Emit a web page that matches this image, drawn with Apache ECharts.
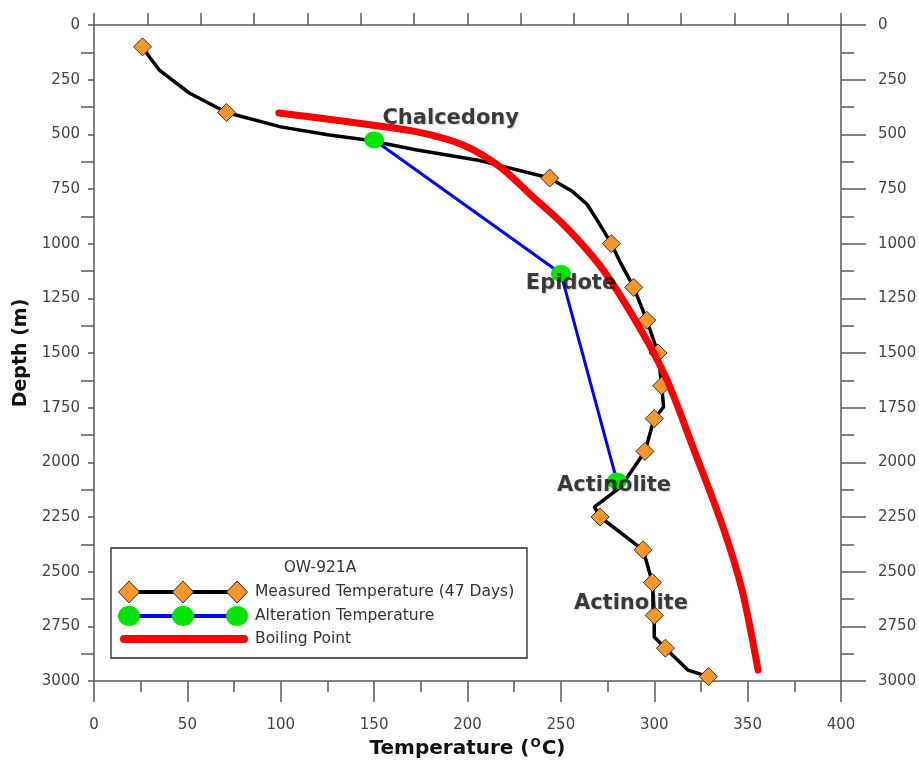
<!DOCTYPE html>
<html>
<head>
<meta charset="utf-8">
<script src="https://cdn.jsdelivr.net/npm/echarts@6/dist/echarts.min.js"></script>
<style>
html,body{margin:0;padding:0;background:#fff;overflow:hidden;}
#chart{width:919px;height:760px;}
</style>
</head>
<body>
<div id="chart"></div>
<script>
// ---- data ----
const measuredT = [26, 30, 35, 51, 71, 100, 126, 146, 173, 205, 244, 256, 264, 270, 277, 282, 289, 296, 302, 304, 305, 300, 295, 282, 268, 271, 294, 299, 300, 300, 306, 318, 329];
const measuredD = [100, 150, 206, 311, 400, 466, 503, 526, 572, 617, 700, 760, 820, 900, 1000, 1088, 1200, 1350, 1500, 1650, 1747, 1800, 1950, 2113, 2204, 2250, 2400, 2550, 2700, 2799, 2850, 2950, 2980];
const measuredMarked = [1, 0, 0, 0, 1, 0, 0, 0, 0, 0, 1, 0, 0, 0, 1, 0, 1, 1, 1, 1, 0, 1, 1, 0, 0, 1, 1, 1, 1, 0, 1, 0, 1];

const alterT = [150, 250, 280];
const alterD = [526, 1136, 2085];

const boilT = [99, 137, 173, 197.6, 217.4, 235, 252.7, 272.6, 292.9, 306.8, 320.7, 336.8, 347, 355.6];
const boilD = [402, 444, 489, 549, 649, 786, 924, 1120, 1395, 1623, 1930, 2296, 2584, 2950];

const labelText = ['Chalcedony', 'Epidote', 'Actinolite', 'Actinolite'];
const labelT = [191, 255.4, 278.5, 287.5];
const labelD = [428, 1183, 2106, 2645];

const xTicks = {min: 0, max: 400, interval: 50};
const yTicks = {min: 0, max: 3000, interval: 250};

const legendTitle = 'OW-921A';
const legendNames = ['Measured Temperature (47 Days)', 'Alteration Temperature', 'Boiling Point'];

// ---- chart ----
const FONT = 'DejaVu Sans';
const axisCol = '#5a5a5a';
const labelCol = '#444';
const chart = echarts.init(document.getElementById('chart'), null, {renderer: 'canvas'});

const measuredData = measuredT.map((t, i) => ({
  value: [t, measuredD[i]],
  symbol: measuredMarked[i] ? 'diamond' : 'none'
}));
const alterData = alterT.map((t, i) => [t, alterD[i]]);
const boilData = boilT.map((t, i) => [t, boilD[i]]);
const labelData = labelT.map((t, i) => ({value: [t, labelD[i]], name: labelText[i]}));

const lx = 111, ly = 548;
function diamond(cx, cy, w, h) {
  return {type: 'polygon', shape: {points: [[cx, cy - h / 2], [cx + w / 2, cy], [cx, cy + h / 2], [cx - w / 2, cy]]},
    style: {fill: '#F7962A', stroke: '#333', lineWidth: 1}, z: 102};
}
const legendGraphics = [
  {type: 'rect', shape: {x: lx, y: ly, width: 416, height: 110}, style: {fill: '#fff', stroke: '#222', lineWidth: 1.3}, z: 100},
  {type: 'text', x: 320, y: 568, style: {text: legendTitle, font: '15.5px "DejaVu Sans"', fill: '#333', textAlign: 'center', textVerticalAlign: 'middle'}, z: 101},
  {type: 'line', shape: {x1: 121, y1: 592, x2: 245, y2: 592}, style: {stroke: '#000', lineWidth: 4}, z: 101},
  diamond(129, 592, 21, 22), diamond(183, 592, 21, 22), diamond(237, 592, 21, 22),
  {type: 'line', shape: {x1: 129, y1: 616, x2: 237, y2: 616}, style: {stroke: '#0000ff', lineWidth: 4}, z: 101},
  {type: 'ellipse', shape: {cx: 129, cy: 616, rx: 11, ry: 10}, style: {fill: '#00e400'}, z: 102},
  {type: 'ellipse', shape: {cx: 183, cy: 616, rx: 11, ry: 10}, style: {fill: '#00e400'}, z: 102},
  {type: 'ellipse', shape: {cx: 237, cy: 616, rx: 11, ry: 10}, style: {fill: '#00e400'}, z: 102},
  {type: 'line', shape: {x1: 124, y1: 639, x2: 244, y2: 639}, style: {stroke: '#ff0000', lineWidth: 8, lineCap: 'round'}, z: 101}
];
legendNames.forEach((n, i) => {
  legendGraphics.push({type: 'text', x: 255, y: [592, 616, 639][i],
    style: {text: n, font: '15.5px "DejaVu Sans"', fill: '#333', textAlign: 'left', textVerticalAlign: 'middle'}, z: 101});
});

const plain = v => String(v);

const option = {
  backgroundColor: '#fff',
  animation: false,
  grid: {left: 94, top: 25, right: 78, bottom: 79, containLabel: false, outerBoundsMode: 'none'},
  xAxis: [
    {
      type: 'value', position: 'bottom', min: xTicks.min, max: xTicks.max, interval: xTicks.interval,
      axisLine: {show: true, onZero: false, lineStyle: {color: axisCol, width: 1.5}},
      axisTick: {show: true, length: 21, lineStyle: {color: axisCol, width: 1.5}},
      minorTick: {show: true, splitNumber: 2, length: 11, lineStyle: {color: axisCol, width: 1.5}},
      axisLabel: {margin: 37, color: labelCol, fontFamily: FONT, fontSize: 15, formatter: plain},
      splitLine: {show: false},
      name: '{a|Temperature (}{s|O}{a|C)}', nameLocation: 'middle', nameGap: 56,
      nameTextStyle: {rich: {
        a: {fontFamily: FONT, fontWeight: 'bold', fontSize: 20, color: '#111'},
        s: {fontFamily: FONT, fontWeight: 'bold', fontSize: 12, color: '#111', padding: [0, 1, 9, 1]}
      }}
    },
    {
      type: 'value', position: 'top', min: 0, max: 14, interval: 1,
      axisLine: {show: true, onZero: false, lineStyle: {color: axisCol, width: 1.5}},
      axisTick: {show: true, length: 12, lineStyle: {color: axisCol, width: 1.5}},
      axisLabel: {show: false},
      splitLine: {show: false}
    }
  ],
  yAxis: [
    {
      type: 'value', position: 'left', inverse: true, min: yTicks.min, max: yTicks.max, interval: yTicks.interval,
      axisLine: {show: true, onZero: false, lineStyle: {color: axisCol, width: 1.5}},
      axisTick: {show: true, length: 6, lineStyle: {color: axisCol, width: 1.5}},
      minorTick: {show: true, splitNumber: 2, length: 13, lineStyle: {color: axisCol, width: 1.5}},
      axisLabel: {margin: 14, color: labelCol, fontFamily: FONT, fontSize: 15, formatter: plain},
      splitLine: {show: false},
      name: 'Depth (m)', nameLocation: 'middle', nameGap: 52, nameRotate: 90,
      nameTextStyle: {fontFamily: FONT, fontWeight: 'bold', fontSize: 19, color: '#111'}
    },
    {
      type: 'value', position: 'right', inverse: true, min: yTicks.min, max: yTicks.max, interval: yTicks.interval,
      axisLine: {show: true, onZero: false, lineStyle: {color: axisCol, width: 1.5}},
      axisTick: {show: true, length: 25, lineStyle: {color: axisCol, width: 1.5}},
      minorTick: {show: true, splitNumber: 2, length: 13, lineStyle: {color: axisCol, width: 1.5}},
      axisLabel: {margin: 37, color: labelCol, fontFamily: FONT, fontSize: 15, formatter: plain},
      splitLine: {show: false}
    }
  ],
  series: [
    {
      name: legendNames[0], type: 'line', xAxisIndex: 0, yAxisIndex: 0, z: 2,
      data: measuredData, smooth: false,
      symbolSize: [18, 18],
      lineStyle: {color: '#000', width: 3.5, join: 'round'},
      itemStyle: {color: '#F7962A', borderColor: '#333', borderWidth: 1}
    },
    {
      name: legendNames[1], type: 'line', xAxisIndex: 0, yAxisIndex: 0, z: 3,
      data: alterData, symbol: 'circle', symbolSize: [20, 17],
      lineStyle: {color: '#0000ff', width: 3},
      itemStyle: {color: '#00e400', borderWidth: 0}
    },
    {
      name: legendNames[2], type: 'line', xAxisIndex: 0, yAxisIndex: 0, z: 4,
      data: boilData, smooth: 0.3, symbol: 'none',
      lineStyle: {color: '#ff0000', width: 7, cap: 'round', join: 'round'}
    },
    {
      name: 'labels', type: 'scatter', xAxisIndex: 0, yAxisIndex: 0, z: 6,
      data: labelData, symbolSize: 1, itemStyle: {color: 'rgba(0,0,0,0)'},
      label: {show: true, position: 'inside', formatter: p => p.name,
        fontFamily: FONT, fontWeight: 'bold', fontSize: 21, color: '#111',
        textShadowColor: 'rgba(0,0,0,0.25)', textShadowBlur: 1.5, textShadowOffsetX: 1, textShadowOffsetY: 1}
    }
  ],
  graphic: legendGraphics
};
chart.setOption(option);
</script>
</body>
</html>
